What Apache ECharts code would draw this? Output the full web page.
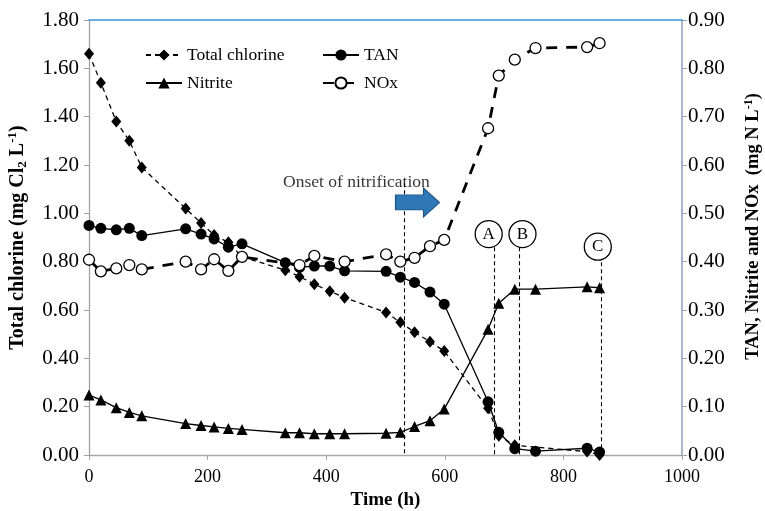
<!DOCTYPE html>
<html>
<head>
<meta charset="utf-8">
<script src="https://cdn.jsdelivr.net/npm/echarts@6/dist/echarts.min.js"></script>
<style>
html,body{margin:0;padding:0;background:#fff;}
#chart{width:765px;height:511px;}
</style>
</head>
<body>
<div id="chart"></div>
<script>
// ---- data ----
var times = [0, 20, 46, 68, 89, 163, 189, 211, 235, 258, 331, 355, 380, 406, 431, 501, 525, 549, 575, 599, 673, 691, 718, 753, 840, 861];
var totalChlorine = [1.66, 1.54, 1.38, 1.30, 1.19, 1.02, 0.96, 0.91, 0.88, 0.82, 0.765, 0.738, 0.707, 0.678, 0.651, 0.59, 0.549, 0.508, 0.469, 0.43, 0.193, 0.08, 0.04, null, 0.014, 0.0];
var tan = [0.475, 0.469, 0.466, 0.469, 0.454, 0.468, 0.457, 0.447, 0.43, 0.437, 0.398, 0.388, 0.391, 0.391, 0.381, 0.38, 0.368, 0.357, 0.337, 0.312, 0.11, 0.047, 0.013, 0.008, 0.014, 0.006];
var nitrite = [0.124, 0.114, 0.098, 0.088, 0.081, 0.065, 0.061, 0.058, 0.055, 0.053, 0.046, 0.046, 0.044, 0.044, 0.044, 0.045, 0.047, 0.059, 0.071, 0.095, 0.26, 0.314, 0.343, 0.343, 0.348, 0.346];
var nox = [0.404, 0.38, 0.386, 0.393, 0.384, 0.40, 0.384, 0.405, 0.381, 0.41, null, 0.393, 0.412, null, 0.40, 0.415, 0.40, 0.408, 0.432, 0.445, 0.676, 0.785, 0.818, 0.842, 0.844, 0.852];

var xTicks = [0, 200, 400, 600, 800, 1000];
var leftTicks = [0, 0.2, 0.4, 0.6, 0.8, 1.0, 1.2, 1.4, 1.6, 1.8];
var rightTicks = [0, 0.1, 0.2, 0.3, 0.4, 0.5, 0.6, 0.7, 0.8, 0.9];

// annotations (left-axis units)
var refLineX = [532, 684, 726, 863];
var refLineTop = [1.125, 0.86, 0.86, 0.827];
var markerLabels = ['A', 'B', 'C'];
var markerX = [674, 731, 858];
var markerY = [0.914, 0.914, 0.862];
var onsetText = 'Onset of nitrification';
var onsetTextPos = [451, 1.13];
var arrowPos = [554, 1.045];

function pairs(xs, ys) {
  return xs.map(function (x, i) { return [x, ys[i]]; });
}

var FONT = 'Liberation Serif';
var chart = echarts.init(document.getElementById('chart'), null, {renderer: 'canvas'});

var legendCommon = {
  orient: 'vertical', top: 41,
  itemWidth: 36, itemHeight: 14, itemGap: 10,
  textStyle: {fontFamily: FONT, fontSize: 17.5, color: '#000'},
  selectedMode: false
};

var option = {
  backgroundColor: '#fff',
  animation: false,
  textStyle: {fontFamily: FONT, color: '#000'},
  grid: {left: 89, right: 83, top: 20, bottom: 56, containLabel: false, outerBoundsMode: 'none'},
  legend: [
    Object.assign({data: ['Total chlorine', 'Nitrite'], left: 140}, legendCommon),
    Object.assign({data: ['TAN', 'NOx'], left: 317}, legendCommon)
  ],
  xAxis: [
    {
      type: 'value', min: 0, max: 1000, interval: 200,
      position: 'bottom',
      axisLine: {show: true, onZero: false, lineStyle: {color: '#a6a6a6', width: 1.3}},
      axisTick: {show: true, inside: false, length: 5, lineStyle: {color: '#a6a6a6'}},
      splitLine: {show: false},
      axisLabel: {fontFamily: FONT, fontSize: 18, color: '#000', margin: 13,
        formatter: function (v) { return xTicks.indexOf(v) >= 0 ? String(v) : ''; }},
      name: 'Time (h)', nameLocation: 'middle', nameGap: 36,
      nameTextStyle: {fontFamily: FONT, fontSize: 19, fontWeight: 'bold', color: '#000'}
    },
    {
      type: 'value', min: 0, max: 1000, position: 'top',
      axisLine: {show: true, onZero: false, lineStyle: {color: '#3a93d8', width: 1.5}},
      axisTick: {show: false}, axisLabel: {show: false}, splitLine: {show: false}
    }
  ],
  yAxis: [
    {
      type: 'value', min: 0, max: 1.8, interval: 0.2, position: 'left',
      axisLine: {show: true, onZero: false, lineStyle: {color: '#a0a0a0', width: 1.3}},
      axisTick: {show: true, inside: false, length: 5, lineStyle: {color: '#a0a0a0'}},
      splitLine: {show: false},
      axisLabel: {fontFamily: FONT, fontSize: 21, color: '#000', margin: 10,
        formatter: function (v) { return v.toFixed(2); }},
      name: '{b|Total chlorine (mg Cl}{sub|2}{b| L}{sup|-1}{b|)}',
      nameLocation: 'middle', nameGap: 60, nameRotate: 90,
      nameTextStyle: {
        rich: {
          b: {fontFamily: FONT, fontSize: 20, fontWeight: 'bold', color: '#000', lineHeight: 23},
          sub: {fontFamily: FONT, fontSize: 13, fontWeight: 'bold', color: '#000', lineHeight: 13, verticalAlign: 'bottom'},
          sup: {fontFamily: FONT, fontSize: 13, fontWeight: 'bold', color: '#000', lineHeight: 13, verticalAlign: 'top'}
        }
      }
    },
    {
      type: 'value', min: 0, max: 0.9, interval: 0.1, position: 'right',
      axisLine: {show: true, onZero: false, lineStyle: {color: '#8ea2b8', width: 1.5}},
      axisTick: {show: true, inside: false, length: 5, lineStyle: {color: '#8ea2b8'}},
      splitLine: {show: false},
      axisLabel: {fontFamily: FONT, fontSize: 21, color: '#000', margin: 6,
        formatter: function (v) { return v.toFixed(2); }},
      name: '{b|TAN, Nitrite and NOx  (mg N L}{sup|-1}{b|)}',
      nameLocation: 'middle', nameGap: 61, nameRotate: 90,
      nameTextStyle: {
        padding: [0, 0, 0, 22],
        rich: {
          b: {fontFamily: FONT, fontSize: 18.5, fontWeight: 'bold', color: '#000', lineHeight: 21},
          sup: {fontFamily: FONT, fontSize: 12, fontWeight: 'bold', color: '#000', lineHeight: 12, verticalAlign: 'top'}
        }
      }
    }
  ],
  series: [
    {
      name: 'Total chlorine', type: 'line', xAxisIndex: 0, yAxisIndex: 0,
      data: pairs(times, totalChlorine), connectNulls: true,
      symbol: 'diamond', symbolSize: [10, 12],
      itemStyle: {color: '#000'},
      lineStyle: {color: '#000', width: 1.3, type: [5, 4]},
      z: 3
    },
    {
      name: 'TAN', type: 'line', xAxisIndex: 0, yAxisIndex: 1,
      data: pairs(times, tan), connectNulls: true,
      symbol: 'circle', symbolSize: 11,
      itemStyle: {color: '#000'},
      lineStyle: {color: '#000', width: 1.3},
      z: 4
    },
    {
      name: 'Nitrite', type: 'line', xAxisIndex: 0, yAxisIndex: 1,
      data: pairs(times, nitrite), connectNulls: true,
      symbol: 'triangle', symbolSize: 11,
      itemStyle: {color: '#000'},
      lineStyle: {color: '#000', width: 1.3},
      z: 4
    },
    {
      name: 'NOx', type: 'line', xAxisIndex: 0, yAxisIndex: 1,
      data: pairs(times, nox), connectNulls: true,
      symbol: 'circle', symbolSize: 11,
      itemStyle: {color: '#fff', borderColor: '#000', borderWidth: 1.3},
      lineStyle: {color: '#000', width: 2.8, type: [11, 9]},
      z: 5
    },
    {
      name: 'refs', type: 'scatter', xAxisIndex: 0, yAxisIndex: 0,
      data: [], silent: true, z: 6,
      markLine: {
        silent: true, symbol: ['none', 'none'],
        label: {show: false},
        lineStyle: {color: '#000', width: 1.1, type: [4, 3]},
        data: refLineX.map(function (x, i) { return [{coord: [x, refLineTop[i]]}, {coord: [x, 0]}]; })
      }
    },
    {
      name: 'arrow', type: 'scatter', xAxisIndex: 0, yAxisIndex: 0,
      data: [arrowPos], silent: true, z: 5,
      symbol: 'path://M0,7 L28,7 L28,0 L44,14.5 L28,29 L28,22 L0,22 Z',
      symbolSize: [44, 29],
      itemStyle: {color: '#2e78b8', borderColor: '#1f5284', borderWidth: 1, opacity: 1}
    },
    {
      name: 'onset', type: 'scatter', xAxisIndex: 0, yAxisIndex: 0,
      data: [onsetTextPos], silent: true, symbolSize: 0, z: 7,
      label: {show: true, position: 'inside', formatter: onsetText,
        fontFamily: FONT, fontSize: 17.5, color: '#000'}
    },
    {
      name: 'markers', type: 'scatter', xAxisIndex: 0, yAxisIndex: 0,
      data: markerX.map(function (x, i) { return {value: [x, markerY[i]], name: markerLabels[i]}; }),
      silent: true, symbol: 'circle', symbolSize: 27, z: 7,
      itemStyle: {color: '#fff', borderColor: '#000', borderWidth: 1.3, opacity: 1},
      label: {show: true, position: 'inside', formatter: '{b}',
        fontFamily: FONT, fontSize: 17, color: '#000'}
    }
  ]
};
chart.setOption(option);
</script>
</body>
</html>
